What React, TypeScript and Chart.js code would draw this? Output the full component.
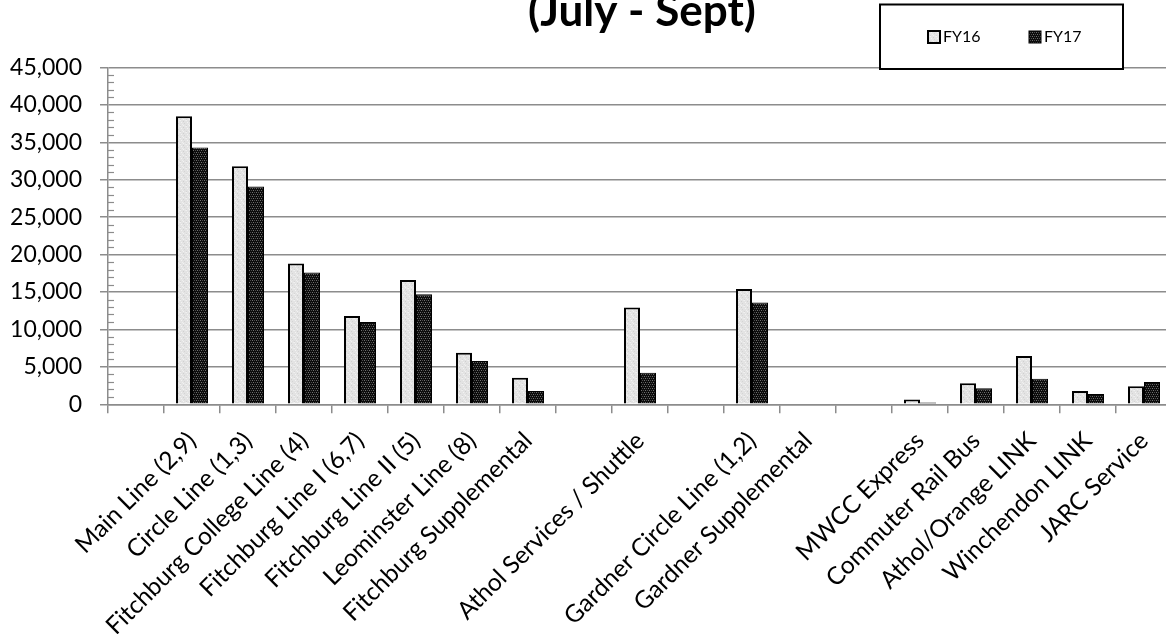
import React, { useEffect, useRef } from 'react';
import { Chart, registerables } from 'chart.js';

Chart.register(...registerables);

// Route categories; empty strings are spacer slots between route groups.
const categories: string[] = [
  '',
  'Main Line (2,9)',
  'Circle Line (1,3)',
  'Fitchburg College Line (4)',
  'Fitchburg Line I (6,7)',
  'Fitchburg Line II (5)',
  'Leominster Line (8)',
  'Fitchburg Supplemental',
  '',
  'Athol Services / Shuttle',
  '',
  'Gardner Circle Line (1,2)',
  'Gardner Supplemental',
  '',
  'MWCC Express',
  'Commuter Rail Bus',
  'Athol/Orange LINK',
  'Winchendon LINK',
  'JARC Service',
];

// Quarterly ridership (July - Sept)
const fy16: (number | null)[] = [
  null, 38500, 31800, 18800, 11800, 16600, 6900, 3550, null, 12950, null, 15400, null, null, 650, 2800, 6450, 1780, 2400,
];
const fy17: (number | null)[] = [
  null, 34300, 29100, 17600, 11000, 14700, 5800, 1780, null, 4200, null, 13600, null, null, 250, 2140, 3420, 1380, 2980,
];

const seriesNames = ['FY16', 'FY17'];
const yMax = 45000;
const yStep = 5000;
const yMinorStep = 1000;
const titleText = '(July - Sept)';

const FONT = 'Lato, "Open Sans", sans-serif';
const GRID = '#8c8c8c';

function makePattern(base: string, dots: [number, number, string][], size: number): CanvasPattern | string {
  const c = document.createElement('canvas');
  c.width = size;
  c.height = size;
  const g = c.getContext('2d');
  if (!g) return base;
  g.fillStyle = base;
  g.fillRect(0, 0, size, size);
  for (const [x, y, col] of dots) {
    g.fillStyle = col;
    g.fillRect(x, y, 1, 1);
  }
  const p = g.createPattern(c, 'repeat');
  return p || base;
}

export default function App() {
  const ref = useRef<HTMLCanvasElement | null>(null);

  useEffect(() => {
    const canvas = ref.current;
    if (!canvas) return;

    const lightFill = makePattern(
      '#e3e3e3',
      [
        [0, 0, '#f1f1f1'], [3, 1, '#d0d0d0'], [1, 2, '#f3f3f3'], [4, 3, '#d4d4d4'],
        [2, 4, '#efefef'], [0, 5, '#d6d6d6'], [5, 0, '#ececec'], [3, 5, '#f2f2f2'],
      ],
      6,
    );
    const darkFill = makePattern(
      '#0c0c0c',
      [
        [0, 0, '#707070'], [2, 0, '#4a4a4a'], [1, 2, '#707070'], [3, 2, '#4a4a4a'],
      ],
      4,
    );

    const fills = [lightFill, darkFill];

    const decorations = {
      id: 'decorations',
      afterDraw(chart: any) {
        const { ctx, chartArea, scales } = chart;
        const y = scales.y;
        // minor tick marks on the inner side of the value axis
        ctx.save();
        ctx.strokeStyle = GRID;
        ctx.lineWidth = 1.2;
        for (let v = yMinorStep; v < yMax; v += yMinorStep) {
          if (v % yStep === 0) continue;
          const py = Math.round(y.getPixelForValue(v)) + 0.5;
          ctx.beginPath();
          ctx.moveTo(chartArea.left, py);
          ctx.lineTo(chartArea.left + 6, py);
          ctx.stroke();
        }
        ctx.restore();

        // title
        ctx.save();
        ctx.fillStyle = '#000';
        ctx.font = `bold 44px ${FONT}`;
        ctx.textAlign = 'center';
        ctx.textBaseline = 'alphabetic';
        ctx.fillText(titleText, (chartArea.left + chartArea.right) / 2 + 2, 26);
        ctx.restore();

        // boxed legend
        ctx.save();
        const bx = 880, by = 4.5, bw = 243, bh = 64.5;
        ctx.fillStyle = '#fff';
        ctx.fillRect(bx, by, bw, bh);
        ctx.strokeStyle = '#000';
        ctx.lineWidth = 2;
        ctx.strokeRect(bx, by, bw, bh);
        ctx.font = `16px ${FONT}`;
        ctx.textBaseline = 'middle';
        ctx.textAlign = 'left';
        const cy = 37;
        const itemX = [928, 1029];
        seriesNames.forEach((name, i) => {
          const sx = itemX[i];
          ctx.fillStyle = fills[i] as any;
          ctx.fillRect(sx, cy - 6, 12, 12);
          ctx.strokeStyle = '#000';
          ctx.lineWidth = i === 0 ? 2 : 1;
          ctx.strokeRect(sx, cy - 6, 12, 12);
          ctx.fillStyle = '#000';
          ctx.fillText(name, sx + 15, cy);
        });
        ctx.restore();
      },
    };

    const chart = new Chart(canvas, {
      type: 'bar',
      data: {
        labels: categories,
        datasets: [
          {
            label: seriesNames[0],
            data: fy16,
            backgroundColor: lightFill as any,
            borderColor: '#000',
            borderWidth: 2,
            categoryPercentage: 32 / 56,
            barPercentage: 1,
          },
          {
            label: seriesNames[1],
            data: fy17,
            backgroundColor: darkFill as any,
            borderColor: '#000',
            borderWidth: 1,
            categoryPercentage: 32 / 56,
            barPercentage: 1,
          },
        ],
      },
      options: {
        responsive: false,
        animation: false,
        layout: { padding: { top: 67.5, left: 0, right: 8, bottom: 0 } },
        plugins: {
          legend: { display: false },
          title: { display: false },
          tooltip: { enabled: false },
        },
        scales: {
          x: {
            offset: true,
            grid: {
              offset: true,
              drawOnChartArea: false,
              drawTicks: true,
              tickLength: 9,
              color: GRID,
              lineWidth: 1.5,
            },
            border: { display: true, color: GRID, width: 1.5 },
            ticks: {
              autoSkip: false,
              maxRotation: 45,
              minRotation: 45,
              padding: 13,
              color: '#000',
              font: { family: FONT, size: 24.5 },
            },
            afterFit(scale: any) {
              scale.height = 229.7;
              scale.paddingLeft = 0;
              scale.paddingRight = 0;
            },
          },
          y: {
            min: 0,
            max: yMax,
            grid: {
              color: GRID,
              lineWidth: 1.5,
              tickLength: 8,
            },
            border: { display: true, color: GRID, width: 1.5 },
            ticks: {
              stepSize: yStep,
              padding: 18,
              color: '#000',
              font: { family: FONT, size: 23 },
              callback: (v: any) => Number(v).toLocaleString('en-US'),
            },
            afterFit(scale: any) {
              scale.width = 108;
            },
          },
        },
      },
      plugins: [decorations],
    });

    return () => chart.destroy();
  }, []);

  return (
    <div
      style={{
        position: 'fixed',
        left: 0,
        top: 0,
        width: 1166,
        height: 634,
        overflow: 'hidden',
        background: '#fff',
      }}
    >
      <canvas ref={ref} width={1180} height={634} style={{ width: 1180, height: 634, display: 'block' }} />
    </div>
  );
}
